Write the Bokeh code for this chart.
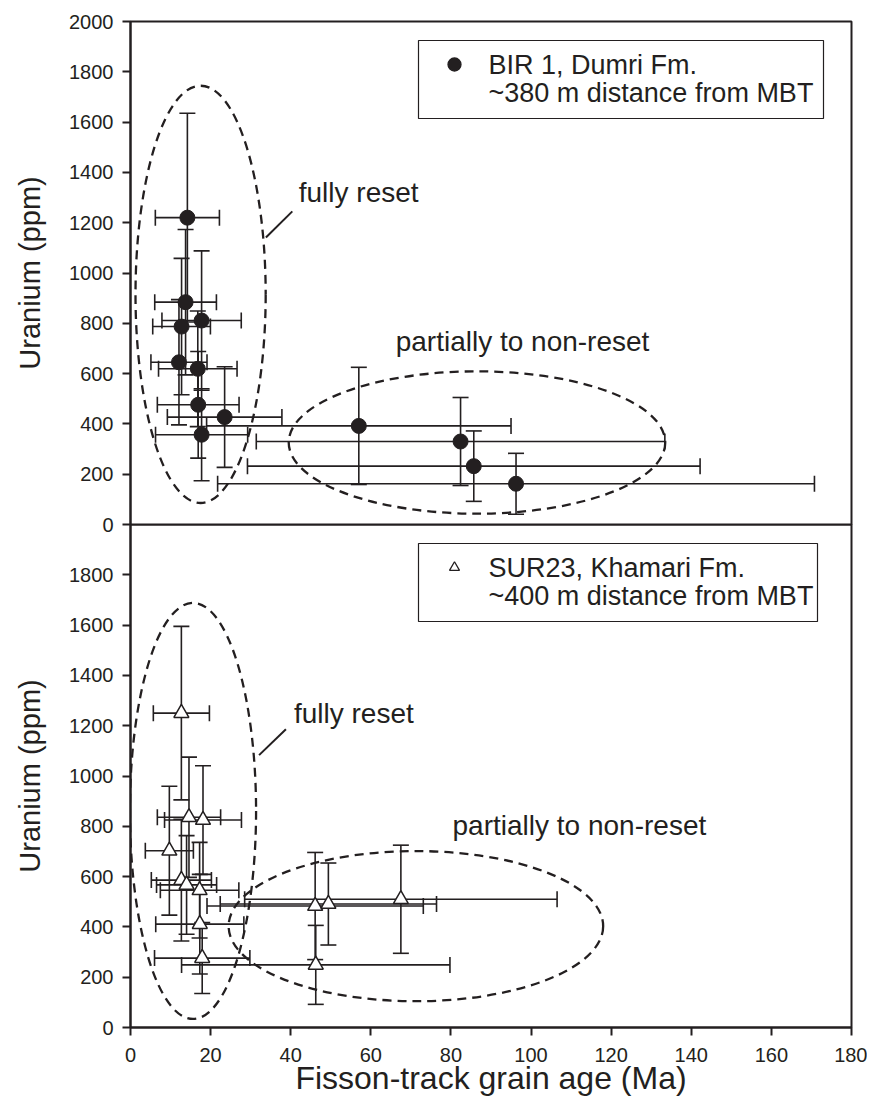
from bokeh.plotting import figure
from bokeh.layouts import column
from bokeh.models import (Range1d, FixedTicker, Whisker, TeeHead, ColumnDataSource,
                          BoxAnnotation, Label)
from bokeh.embed import file_html
from bokeh.resources import INLINE

# ---------------- data ----------------
# BIR 1, Dumri Fm. (~380 m from MBT)
bir_age = [14.2, 13.75, 17.75, 12.75, 12.1, 16.8, 16.9, 23.5, 17.75, 57.0, 82.4, 85.7, 96.25]
bir_age_err = [8.0, 7.7, 9.9, 7.2, 7.0, 9.8, 10.2, 14.3, 11.5, 38.0, 51.0, 56.5, 74.5]
bir_u = [1220, 884, 811, 787, 645, 619, 476, 427, 357, 392, 330, 232, 162]
bir_u_err = [415, 289, 277, 271, 249, 230, 212, 200, 183, 233, 175, 140, 121]

# SUR23, Khamari Fm. (~400 m from MBT)
sur_age = [12.7, 14.6, 18.1, 9.7, 12.7, 14.0, 17.25, 17.3, 17.9, 46.1, 49.4, 67.5, 46.25]
sur_age_err = [7.0, 7.9, 9.6, 6.0, 7.5, 7.5, 9.8, 11.0, 11.9, 27.0, 27.0, 39.0, 33.5]
sur_u = [1250, 836, 825, 703, 586, 567, 546, 411, 276, 483, 491, 510, 249]
sur_u_err = [345, 239, 216, 256, 242, 196, 190, 198, 141, 213, 163, 215, 157]

# grouping ellipses (centre x, centre y, width, height) : fully reset, partially reset
top_ell_x = [17.5, 86.5]
top_ell_y = [915, 326]
top_ell_w = [32.5, 94.0]
top_ell_h = [1660, 566]
bot_ell_x = [15.6, 71.25]
bot_ell_y = [861, 403]
bot_ell_w = [31.5, 93.5]
bot_ell_h = [1655, 597]

x_ticks = list(range(0, 181, 20))
y_ticks_top = list(range(0, 2001, 200))
y_ticks_bottom = list(range(0, 1801, 200))

legend_top = ["BIR 1, Dumri Fm.", "~380 m distance from MBT"]
legend_bottom = ["SUR23, Khamari Fm.", "~400 m distance from MBT"]
label_full = "fully reset"
label_partial = "partially to non-reset"

# ---------------- style ----------------
INK = "#231f20"
FONT = "Liberation Sans"
FRAME_W, FRAME_H = 721, 503
LEFT, RIGHT, TOP = 130, 16, 21
GAP = 12            # extra border under the top frame (overlapped by the lower panel)
BOTTOM = 85
X0, X1, Y0, Y1 = 0, 180, 0, 2000


def px_x(dx):      # pixel offset from frame left -> data x
    return X0 + dx * (X1 - X0) / FRAME_W


def px_y(dy):      # pixel offset from frame top -> data y
    return Y1 - dy * (Y1 - Y0) / FRAME_H


def style_axis(ax, label, label_size, label_standoff, tick_standoff, ticks):
    ax.ticker = FixedTicker(ticks=ticks)
    ax.axis_label = label
    ax.axis_label_text_font = FONT
    ax.axis_label_text_font_size = label_size
    ax.axis_label_text_font_style = "normal"
    ax.axis_label_text_color = INK
    ax.axis_label_standoff = label_standoff
    ax.major_label_text_font = FONT
    ax.major_label_text_font_size = "20px"
    ax.major_label_text_color = INK
    ax.major_label_standoff = tick_standoff
    ax.major_tick_out = 8
    ax.major_tick_in = 0
    ax.minor_tick_out = 0
    ax.minor_tick_in = 0
    ax.axis_line_width = 2
    ax.axis_line_color = INK
    ax.major_tick_line_width = 2
    ax.major_tick_line_color = INK


def make_panel(height, top, bottom, yticks, show_x, margin):
    p = figure(width=LEFT + FRAME_W + RIGHT, height=height,
               x_range=Range1d(X0, X1), y_range=Range1d(Y0, Y1),
               output_backend="svg", toolbar_location=None,
               min_border_left=LEFT, min_border_right=RIGHT,
               min_border_top=top, min_border_bottom=bottom,
               x_axis_location="below" if show_x else None, margin=margin)
    p.grid.visible = False
    p.outline_line_color = INK
    p.outline_line_width = 2
    p.background_fill_alpha = 0
    p.border_fill_alpha = 0
    style_axis(p.yaxis[0], "Uranium (ppm)", "29px", 20, 9, yticks)
    if show_x:
        style_axis(p.xaxis[0], "Fisson-track grain age (Ma)", "32px", -5, 12, x_ticks)
    return p


def add_series(p, age, age_err, u, u_err, marker, fill):
    src = ColumnDataSource(dict(
        age=age, u=u,
        age_lo=[a - e for a, e in zip(age, age_err)],
        age_hi=[a + e for a, e in zip(age, age_err)],
        u_lo=[v - e for v, e in zip(u, u_err)],
        u_hi=[v + e for v, e in zip(u, u_err)],
    ))
    for dim, base, lo, hi in (("width", "u", "age_lo", "age_hi"), ("height", "age", "u_lo", "u_hi")):
        w = Whisker(source=src, base=base, lower=lo, upper=hi, dimension=dim,
                    line_color=INK, line_width=1.6, level="underlay",
                    upper_head=TeeHead(size=16, line_color=INK, line_width=1.6),
                    lower_head=TeeHead(size=16, line_color=INK, line_width=1.6))
        p.add_layout(w)
    if marker == "circle":
        r = p.scatter("age", "u", source=src, marker="circle", size=15,
                      fill_color=fill, line_color=INK, line_width=1)
    else:
        r = p.scatter("age", "u", source=src, marker="triangle", size=15,
                      fill_color=fill, line_color=INK, line_width=1.5)
    return r


def add_ellipses(p, ex, ey, ew, eh):
    p.ellipse(x=ex, y=ey, width=ew, height=eh, fill_alpha=0, line_color=INK,
              line_width=2.3, line_dash="9 6")


def add_text(p, x, y, text, size):
    p.add_layout(Label(x=x, y=y, text=text, text_font=FONT, text_font_size=size,
                       text_color=INK, text_align="left", text_baseline="middle"))


def add_legend(p, lines, marker, fill, msize, box_right):
    # legend box geometry in pixels relative to the frame top-left
    bx0, by0, by1 = 288, 19, 97
    p.add_layout(BoxAnnotation(left=px_x(bx0), right=px_x(box_right), top=px_y(by0), bottom=px_y(by1),
                               fill_color="white", fill_alpha=1, line_color=INK, line_alpha=1,
                               line_width=1.2, level="underlay"))
    p.scatter(x=[px_x(bx0 + 36)], y=[px_y(by0 + 24)], marker=marker, size=msize,
              fill_color=fill, line_color=INK, line_width=1.3)
    add_text(p, px_x(bx0 + 70), px_y(by0 + 24), lines[0], "27px")
    add_text(p, px_x(bx0 + 70), px_y(by0 + 52), lines[1], "27px")


# ---------------- top panel ----------------
p1 = make_panel(TOP + FRAME_H + GAP, TOP, GAP, y_ticks_top, False, (0, 0, 0, 0))
add_ellipses(p1, top_ell_x, top_ell_y, top_ell_w, top_ell_h)
add_series(p1, bir_age, bir_age_err, bir_u, bir_u_err, "circle", INK)
p1.segment(x0=[33.8], y0=[1141], x1=[40.4], y1=[1245], line_color=INK, line_width=2)
add_text(p1, 42, 1320, label_full, "28px")
add_text(p1, 66.2, 728, label_partial, "28px")
add_legend(p1, legend_top, "circle", INK, 13, 693)

# ---------------- bottom panel ----------------
p2 = make_panel(FRAME_H + BOTTOM, 0, BOTTOM, y_ticks_bottom, True, (-GAP, 0, 0, 0))
add_ellipses(p2, bot_ell_x, bot_ell_y, bot_ell_w, bot_ell_h)
add_series(p2, sur_age, sur_age_err, sur_u, sur_u_err, "triangle", "white")
p2.segment(x0=[32.1], y0=[1083], x1=[38.8], y1=[1186], line_color=INK, line_width=2)
add_text(p2, 40.8, 1248, label_full, "28px")
add_text(p2, 80.4, 803, label_partial, "28px")
add_legend(p2, legend_bottom, "triangle", "white", 10, 687)

layout = column(p1, p2, spacing=0)
open("out.html", "w").write(file_html(layout, INLINE))
